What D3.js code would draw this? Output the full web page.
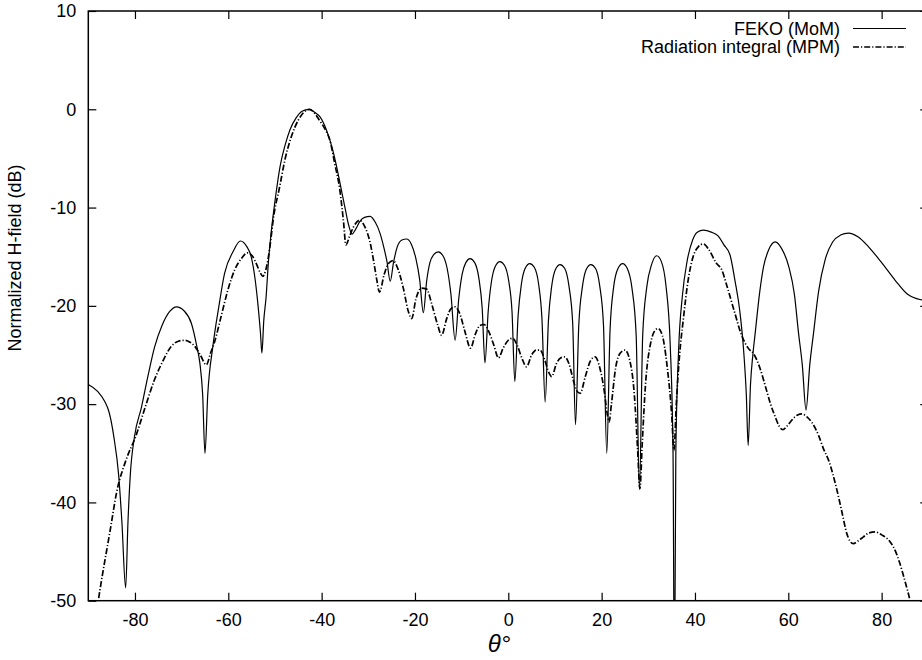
<!DOCTYPE html>
<html>
<head>
<meta charset="utf-8">
<script src="https://cdn.jsdelivr.net/npm/d3@7"></script>
<style>
  html, body { margin: 0; padding: 0; background: #fff; }
  svg { display: block; }
  text { font-family: "Liberation Sans", Arial, Helvetica, sans-serif; fill: #000; }
</style>
</head>
<body>
<svg id="chart" width="922" height="660"></svg>
<script>
// ---- data (theta in degrees, normalized H-field in dB) ----
const xTicks = [-80, -60, -40, -20, 0, 20, 40, 60, 80];
const yTicks = [-50, -40, -30, -20, -10, 0, 10];
const seriesNames = ["FEKO (MoM)", "Radiation integral (MPM)"];

const fekoTheta = [
  -90, -88, -86.5, -85.5, -84.5, -83.5, -82.8, -82.0, -81.5, -81.0, -80.1, -78.6, -77.2, -75.8, -74.2, -72.6, -71.1, -69.5, -67.9, -66.8, -66.1, -65.5, -65.0,
  -64.4, -63.3, -62, -60.8, -59, -57.4, -56, -55.1, -54.2, -53.6, -53.1, -52.8,
  -52.4, -51.9, -51.4, -50.8, -49.9, -48.9, -47.8, -46.8, -45.5, -44.2, -42.7, -41.5, -40.3, -39.4, -38.6, -37.7, -36.8, -35.9, -35.0, -34.2, -33.5,
  -32.7, -31.8, -30.8, -29.6, -28.5, -27.5, -26.7, -26.0, -25.3,
  -24.6, -23.8, -22.8, -21.8, -20.8, -19.8, -19.0, -18.2,
  -17.5, -16.8, -16.0, -15.0, -14.0, -13.1, -12.3, -11.4,
  -10.6, -9.9, -9.1, -8.2, -7.2, -6.3, -5.6, -5.0,
  -4.3, -3.6, -2.8, -1.8, -0.8, 0.1, 0.8, 1.4,
  2.1, 2.8, 3.6, 4.6, 5.6, 6.5, 7.2, 7.9,
  8.6, 9.3, 10.1, 11.1, 12.1, 13.0, 13.8, 14.4,
  15.1, 15.9, 16.7, 17.7, 18.7, 19.6, 20.4, 21.1,
  21.8, 22.6, 23.5, 24.5, 25.5, 26.5, 27.4, 28.1,
  28.8, 29.7, 30.7, 31.8, 32.8, 33.8, 34.7, 35.3, 35.6,
  35.9, 36.5, 37.3, 38.3, 39.5, 40.5, 41.8, 43.5, 45.0, 46.2, 47.5, 48.6, 49.6, 50.5, 51.0, 51.4,
  51.9, 52.4, 52.9, 53.9, 54.7, 55.8, 57.2, 58.6, 60.1, 61.3, 62.2, 63.0, 63.8,
  64.6, 65.4, 66.5, 67.9, 69.5, 71.2, 72.9, 75.0, 77.2, 80, 82.9, 85.5, 88.6, 90
];
const fekoDb = [
  -28.0, -28.7, -29.7, -30.9, -33.4, -37.2, -42.0, -48.7, -42.0, -37.2, -33.3, -30.3, -27.1, -24.2, -22.0, -20.6, -20.1, -20.5, -21.8, -24.0, -25.8, -29, -35.0,
  -29, -24.1, -20, -16.7, -14.5, -13.4, -14.0, -15.0, -17.5, -20.1, -22.8, -24.8,
  -21.5, -19.1, -15.5, -12.5, -9.0, -5.8, -3.6, -2.1, -0.9, -0.2, 0.0, -0.3, -0.8, -1.6, -2.6, -4.0, -5.8, -7.9, -10.0, -11.8, -12.7,
  -12.2, -11.4, -11.0, -10.9, -11.5, -12.6, -14.0, -15.5, -17.5,
  -15.6, -14.0, -13.3, -13.2, -13.7, -15.2, -17.3, -20.7,
  -17.5, -15.6, -14.8, -14.5, -14.9, -16.2, -18.8, -23.5,
  -19.2, -16.8, -15.6, -15.2, -15.6, -17.2, -20.2, -25.8,
  -20.5, -17.5, -16.0, -15.5, -15.9, -17.5, -20.6, -27.7,
  -21.0, -17.8, -16.2, -15.7, -16.1, -17.8, -21.2, -29.8,
  -21.5, -18.0, -16.3, -15.8, -16.2, -18.0, -21.8, -32.1,
  -22.0, -18.0, -16.3, -15.8, -16.2, -18.0, -22.0, -35.0,
  -22.5, -18.0, -16.2, -15.7, -16.2, -18.2, -23.0, -38.7,
  -23.0, -18.0, -15.8, -14.9, -15.5, -18.0, -24.0, -35, -60,
  -35, -24.5, -19.0, -15.5, -13.3, -12.5, -12.3, -12.5, -12.9, -13.8, -14.8, -17.5, -20.5, -25, -29, -34.2,
  -28, -25, -22.8, -18.5, -16.0, -14.3, -13.5, -14.2, -16.0, -18.8, -22.8, -26, -30.6,
  -26.0, -22.8, -18.5, -15.3, -13.5, -12.8, -12.6, -13.0, -14.0, -15.6, -17.4, -18.8, -19.4, -19.5
];

const mpmTheta = [
  -88.5, -87.5, -85.3, -83.9, -82, -79.7, -77.8, -75.8, -74, -72.2, -70.7, -69.3, -68.2, -67.2, -66, -64.7,
  -63.8, -62.9, -61.5, -60.1, -58.6, -57.2, -55.9, -54.9, -54.0, -53.2, -52.6,
  -52.0, -51.5, -50.9, -50.4, -49.0, -47.8, -46.5, -45.0, -43.8, -42.6, -41.5, -40.5, -39.3, -38.2, -37.2, -36.1, -35.3, -34.8,
  -34.0, -33.2, -31.9, -30.7, -29.6, -28.8, -28.2, -27.6,
  -26.6, -25.7, -24.7, -23.6, -22.5, -21.4, -20.7,
  -19.8, -18.6, -17.5, -16.3, -15.1, -14.3,
  -13.2, -12.3, -11.4, -10.4, -9.3, -8.1,
  -7.0, -6.1, -5.2, -4.2, -3.1, -2.1,
  -1.1, 0.0, 0.9, 1.9, 2.9, 3.9,
  5.0, 6.0, 6.8, 7.8, 8.7, 9.3,
  10.3, 11.2, 12.1, 13.0, 13.9, 14.6, 15.4,
  16.5, 17.6, 18.6, 19.6, 20.6, 21.2, 21.6,
  22.1, 23.0, 24.0, 25.0, 26.0, 27.0, 27.7, 28.2,
  28.7, 29.4, 30.5, 31.3, 32.1, 33.0, 34.0, 35.0, 35.5,
  36.0, 36.7, 37.5, 38.5, 39.6, 40.7, 41.8, 43.0, 44.5, 45.8, 46.8, 48.4, 50.0, 51.4, 52.6, 53.9, 55.1, 56.2, 57.2, 58.0, 58.8,
  59.8, 60.8, 62.0, 62.9, 64.0, 65.1, 66.5, 67.5, 68.7, 70.4, 71.5, 72.5, 73.9,
  75.0, 76.1, 77.3, 78.6, 80.0, 81.8, 83.0, 83.9, 85.0, 86.1, 87
];
const mpmDb = [
  -52, -48.9, -42.8, -38.9, -35.8, -33.1, -30.3, -27.5, -25.6, -24.1, -23.6, -23.5, -23.7, -24.1, -25.0, -26.0,
  -24.8, -23.6, -21.0, -18.4, -16.3, -15.2, -14.6, -14.9, -15.7, -16.6, -17.0,
  -16.4, -15.3, -13.3, -11.3, -7.9, -5.0, -2.8, -1.1, -0.3, 0.0, -0.4, -1.1, -2.0, -3.2, -5.5, -8.2, -11.5, -13.8,
  -12.9, -12.0, -11.3, -12.0, -13.6, -15.6, -17.3, -18.6,
  -16.8, -15.7, -15.4, -16.3, -18.2, -20.6, -21.3,
  -19.3, -18.2, -18.3, -20.0, -22.0, -23.0,
  -21.3, -20.3, -20.1, -20.8, -22.6, -24.3,
  -22.8, -22.0, -21.9, -22.6, -24.0, -25.3,
  -24.3, -23.5, -23.3, -24.0, -25.3, -26.2,
  -25.0, -24.5, -24.5, -25.5, -26.8, -27.2,
  -25.9, -25.3, -25.2, -25.9, -27.5, -28.6, -28.9,
  -27.2, -25.6, -25.2, -26.3, -28.8, -31.0, -31.8,
  -30.0, -26.3, -24.8, -24.5, -25.5, -29.0, -34.5, -38.6,
  -34.0, -28.0, -23.8, -22.6, -22.3, -23.0, -26.0, -31.0, -34.7,
  -30.0, -25.0, -21.4, -17.5, -15.0, -14.0, -13.7, -14.3, -15.6, -16.4, -17.9, -20.5, -23.0, -24.3, -24.9, -26.3, -28.2, -30.0, -31.3, -32.2, -32.6,
  -32.2, -31.6, -31.1, -31.0, -31.3, -31.9, -33.2, -34.5, -35.8, -38.7, -41.0, -43.1, -44.2,
  -43.9, -43.5, -43.1, -43.0, -43.3, -44.0, -45.0, -46.2, -48.0, -50.0, -52
];

// ---- layout ----
const svg = d3.select("#chart");
const mLeft = 88.3, mTop = 11, plotW = 840, plotH = 589.7;
const x = d3.scaleLinear().domain([-90, 90]).range([mLeft, mLeft + plotW]);
const y = d3.scaleLinear().domain([-50, 10]).range([mTop + plotH, mTop]);

svg.append("defs").append("clipPath").attr("id", "clip")
  .append("rect").attr("x", mLeft).attr("y", mTop).attr("width", plotW).attr("height", plotH);

const fontSize = 18;
const fmt = d => String(d);   // plain hyphen-minus like the reference

// axes (inward ticks like gnuplot)
const gx = svg.append("g").attr("transform", `translate(0,${mTop + plotH})`)
  .call(d3.axisBottom(x).tickValues(xTicks).tickSizeInner(-8).tickSizeOuter(0).tickPadding(13).tickFormat(fmt));
const gy = svg.append("g").attr("transform", `translate(${mLeft},0)`)
  .call(d3.axisLeft(y).tickValues(yTicks).tickSizeInner(-8).tickSizeOuter(0).tickPadding(12).tickFormat(fmt));
const gxt = svg.append("g").attr("transform", `translate(0,${mTop})`)
  .call(d3.axisTop(x).tickValues(xTicks).tickSizeInner(-8).tickSizeOuter(0).tickFormat(""));
const gyr = svg.append("g").attr("transform", `translate(${mLeft + plotW},0)`)
  .call(d3.axisRight(y).tickValues(yTicks).tickSizeInner(-8).tickSizeOuter(0).tickFormat(""));

[gx, gy, gxt, gyr].forEach(g => {
  g.select(".domain").remove();
  g.selectAll(".tick line").attr("stroke", "#000").attr("stroke-width", 1.2);
  g.selectAll(".tick text").attr("font-size", fontSize)
    .attr("font-family", '"Liberation Sans", Arial, Helvetica, sans-serif').attr("fill", "#000");
});

// frame
svg.append("rect").attr("x", mLeft).attr("y", mTop).attr("width", plotW).attr("height", plotH)
  .attr("fill", "none").attr("stroke", "#000").attr("stroke-width", 1.5);

// curves
const line = d3.line().x(d => x(d[0])).y(d => y(d[1])).curve(d3.curveMonotoneX);
const feko = fekoTheta.map((t, i) => [t, fekoDb[i]]);
const mpm = mpmTheta.map((t, i) => [t, mpmDb[i]]);

const plot = svg.append("g").attr("clip-path", "url(#clip)");
plot.append("path").datum(feko).attr("d", line)
  .attr("fill", "none").attr("stroke", "#000").attr("stroke-width", 1.2);
plot.append("path").datum(mpm).attr("d", line)
  .attr("fill", "none").attr("stroke", "#000").attr("stroke-width", 1.7)
  .attr("stroke-dasharray", "6,2,1.2,2");

// legend
const legendStyles = [{ dash: null, w: 1.2 }, { dash: "6,2,1.2,2", w: 1.7 }];
const lg = svg.append("g");
seriesNames.forEach((name, i) => {
  const ly = 28.5 + i * 18.5;
  lg.append("text").attr("x", 840).attr("y", ly).attr("dy", "0.35em")
    .attr("text-anchor", "end").attr("font-size", fontSize).text(name);
  lg.append("line").attr("x1", 853).attr("x2", 906).attr("y1", ly).attr("y2", ly)
    .attr("stroke", "#000").attr("stroke-width", legendStyles[i].w)
    .attr("stroke-dasharray", legendStyles[i].dash);
});

// axis labels
svg.append("text").attr("transform", `translate(20.5,258) rotate(-90)`)
  .attr("text-anchor", "middle").attr("font-size", fontSize).text("Normalized H-field (dB)");
svg.append("text").attr("x", 499).attr("y", 652).attr("text-anchor", "middle")
  .attr("font-family", '"Liberation Serif", "DejaVu Serif", serif')
  .attr("font-style", "italic").attr("font-size", 24).text("θ°");
</script>
</body>
</html>
